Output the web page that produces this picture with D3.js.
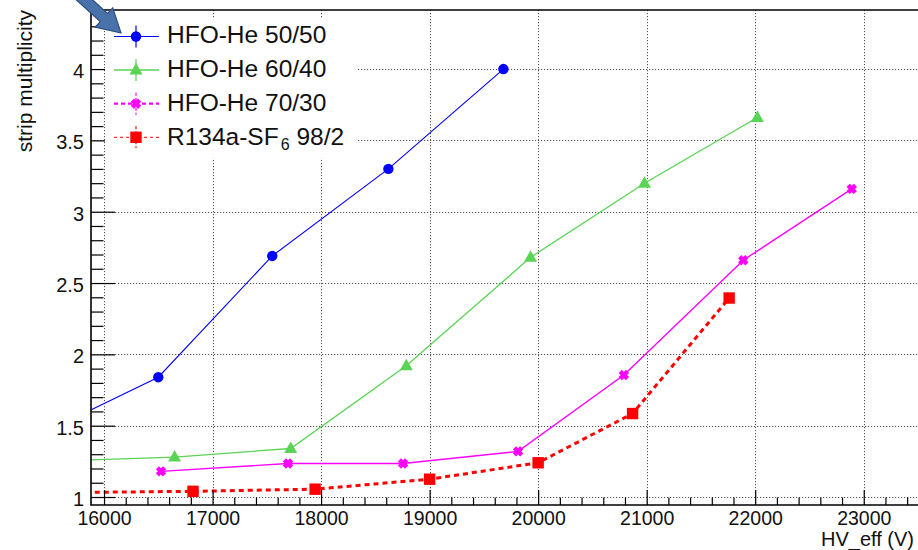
<!DOCTYPE html>
<html>
<head>
<meta charset="utf-8">
<script src="https://cdn.jsdelivr.net/npm/d3@7"></script>
<style>
  html, body { margin: 0; padding: 0; background: #fff; }
  svg { display: block; font-family: "Liberation Sans", Arial, Helvetica, sans-serif; }
</style>
</head>
<body>
<svg id="chart" width="918" height="550"></svg>
<script>
// Strip multiplicity versus effective high voltage for four gas mixtures.
// The first point of some scans lies below the visible HV range and is clipped by the frame.

const hv5050  = [15500, 16500, 17550, 18620, 19680];
const mult5050 = [1.47, 1.84, 2.69, 3.30, 4.00];

const hv6040  = [15500, 16650, 17720, 18785, 19930, 20980, 22020];
const mult6040 = [1.25, 1.28, 1.34, 1.92, 2.68, 3.20, 3.66];

const hv7030  = [16525, 17695, 18755, 19815, 20790, 21890, 22890];
const mult7030 = [1.18, 1.235, 1.235, 1.32, 1.855, 2.66, 3.16];

const hvStd   = [15500, 16820, 17945, 19000, 20000, 20870, 21760];
const multStd  = [1.03, 1.04, 1.055, 1.125, 1.24, 1.585, 2.395];

const seriesNames = ["HFO-He 50/50", "HFO-He 60/40", "HFO-He 70/30", "R134a-SF"];
const xMajorTicks = [16000, 17000, 18000, 19000, 20000, 21000, 22000, 23000];
const yMajorTicks = [1, 1.5, 2, 2.5, 3, 3.5, 4];
const xTitle = "HV_eff (V)";
const yTitle = "strip multiplicity";

const frame = { left: 91, top: 10, bottom: 505, right: 918 };

const x = d3.scaleLinear().domain([15880, 23500]).range([frame.left, frame.right]);
const y = d3.scaleLinear().domain([0.944, 4.414]).range([frame.bottom, frame.top]);

const svg = d3.select("#chart");

svg.append("defs").append("clipPath").attr("id", "plotClip")
  .append("rect")
  .attr("x", frame.left).attr("y", frame.top)
  .attr("width", frame.right - frame.left).attr("height", frame.bottom - frame.top);

// dotted grid at the major ticks
const grid = svg.append("g").attr("stroke", "#555").attr("stroke-width", 1)
  .attr("stroke-dasharray", "1.2,1.8");
grid.selectAll("line.v").data(xMajorTicks).join("line").attr("class", "v")
  .attr("x1", d => Math.round(x(d)) + 0.5).attr("x2", d => Math.round(x(d)) + 0.5)
  .attr("y1", frame.top).attr("y2", frame.bottom);
grid.selectAll("line.h").data(yMajorTicks).join("line").attr("class", "h")
  .attr("x1", frame.left).attr("x2", frame.right)
  .attr("y1", d => Math.round(y(d)) + 0.5).attr("y2", d => Math.round(y(d)) + 0.5);

// data series
const series = [
  { hv: hv5050, m: mult5050, color: "#0000ff", width: 1.1, dash: null, marker: "circle" },
  { hv: hv6040, m: mult6040, color: "#59d454", width: 1.3, dash: null, marker: "triangle" },
  { hv: hv7030, m: mult7030, color: "#ff00ff", width: 1.4, dash: null, marker: "cross" },
  { hv: hvStd,  m: multStd,  color: "#ff0000", width: 3,   dash: "5,4", marker: "square" }
];

const line = d3.line().x(d => x(d[0])).y(d => y(d[1]));

function crossPath(s) {
  // thick X outline: arms of half-width w along both diagonals
  const w = s * 0.62, r = s;
  const k = w / Math.SQRT2;
  const pts = [
    [0, -2 * k], [r - k, -r - k], [r + k, -r + k], [2 * k, 0],
    [r + k, r - k], [r - k, r + k], [0, 2 * k], [-r + k, r + k],
    [-r - k, r - k], [-2 * k, 0], [-r - k, -r + k], [-r + k, -r - k]
  ];
  return "M" + pts.map(p => p.map(v => v.toFixed(2)).join(",")).join("L") + "Z";
}

function drawMarker(g, type, cx, cy, color) {
  if (type === "circle") {
    g.append("circle").attr("cx", cx).attr("cy", cy).attr("r", 5.2).attr("fill", color);
  } else if (type === "triangle") {
    g.append("path").attr("transform", `translate(${cx},${cy})`)
      .attr("d", "M0,-7L6.5,4.5L-6.5,4.5Z").attr("fill", color);
  } else if (type === "cross") {
    g.append("path").attr("transform", `translate(${cx},${cy})`)
      .attr("d", crossPath(3.6)).attr("fill", color);
  } else if (type === "square") {
    g.append("rect").attr("x", cx - 5.7).attr("y", cy - 5.7)
      .attr("width", 11.4).attr("height", 11.4).attr("fill", color);
  }
}

const plot = svg.append("g").attr("clip-path", "url(#plotClip)");
series.forEach(s => {
  const pts = s.hv.map((h, i) => [h, s.m[i]]);
  plot.append("path").datum(pts)
    .attr("d", line).attr("fill", "none")
    .attr("stroke", s.color).attr("stroke-width", s.width)
    .attr("stroke-dasharray", s.dash);
  const mg = plot.append("g");
  pts.forEach(p => drawMarker(mg, s.marker, x(p[0]), y(p[1]), s.color));
});

// axes
const xMinor = d3.range(16000, 23500, 200).filter(v => v % 1000 !== 0);
const yMinor = d3.range(10, 45, 1).map(v => v / 10).filter(v => Math.round(v * 10) % 5 !== 0);

const axX = svg.append("g").attr("transform", `translate(0,${frame.bottom})`);
axX.call(d3.axisBottom(x).tickValues(xMajorTicks).tickSize(-15).tickPadding(6).tickFormat(d3.format("d")));
axX.append("g").call(d3.axisBottom(x).tickValues(xMinor).tickSize(-7.5).tickFormat(""));
axX.selectAll(".domain").remove();
axX.selectAll("line").attr("stroke", "#000").attr("stroke-width", 1.2);
axX.selectAll("text").attr("font-size", 19.5).attr("fill", "#111")
  .attr("font-family", "'Liberation Sans', Arial, sans-serif");

const axY = svg.append("g").attr("transform", `translate(${frame.left},0)`);
axY.call(d3.axisLeft(y).tickValues(yMajorTicks).tickSize(-24).tickPadding(7).tickFormat(d3.format("")));
axY.append("g").call(d3.axisLeft(y).tickValues(yMinor).tickSize(-12.5).tickFormat(""));
axY.selectAll(".domain").remove();
axY.selectAll("line").attr("stroke", "#000").attr("stroke-width", 1.2);
axY.selectAll("text").attr("font-size", 20).attr("fill", "#111").attr("dy", "0.43em")
  .attr("font-family", "'Liberation Sans', Arial, sans-serif");

// frame (right side lies beyond the visible area)
svg.append("path")
  .attr("d", `M${frame.right},${frame.top}H${frame.left}V${frame.bottom}H${frame.right}`)
  .attr("fill", "none").attr("stroke", "#000").attr("stroke-width", 1.6);

// axis titles
svg.append("text").attr("x", 914).attr("y", 546).attr("text-anchor", "end")
  .attr("font-size", 20).attr("fill", "#111").text(xTitle);
svg.append("text").attr("transform", "translate(32,10) rotate(-90)")
  .attr("text-anchor", "end").attr("font-size", 21).attr("fill", "#111").text(yTitle);

// legend
const legend = svg.append("g");
legend.append("rect").attr("x", 105).attr("y", 19).attr("width", 252).attr("height", 139).attr("fill", "#fff");
const legendLine = [
  { dash: null, width: 1.2 },
  { dash: null, width: 1.5 },
  { dash: "4,3", width: 2.2 },
  { dash: "3,3", width: 1 }
];
series.forEach((s, i) => {
  const cy = 36.5 + 33.6 * i;
  const row = legend.append("g");
  row.append("line").attr("x1", 114).attr("x2", 159).attr("y1", cy).attr("y2", cy)
    .attr("stroke", s.color).attr("stroke-width", legendLine[i].width)
    .attr("stroke-dasharray", legendLine[i].dash);
  row.append("line").attr("x1", 136).attr("x2", 136).attr("y1", cy - 11).attr("y2", cy + 11)
    .attr("stroke", s.color).attr("stroke-width", 1.2)
    .attr("stroke-dasharray", i >= 2 ? "3,2" : null);
  drawMarker(row, s.marker, 136, cy, s.color);
  const t = row.append("text").attr("x", 167).attr("y", 43 + 34 * i)
    .attr("font-size", 24.5).attr("fill", "#111");
  t.append("tspan").text(seriesNames[i]);
  if (i === 3) {
    t.append("tspan").attr("dx", 2).attr("dy", 5).attr("font-size", 16).text("6");
    t.append("tspan").attr("dy", -5).text(" 98/2");
  }
});

// pointer arrow aimed at the first legend entry
const tip = [121, 33], dir = [0.74, 0.67];
const n = Math.hypot(dir[0], dir[1]);
const d = [dir[0] / n, dir[1] / n], p = [-d[1], d[0]];
const headLen = 23, headHalf = 13, shaftHalf = 5.5, shaftLen = 45;
const base = [tip[0] - headLen * d[0], tip[1] - headLen * d[1]];
const start = [base[0] - shaftLen * d[0], base[1] - shaftLen * d[1]];
const pt = (c, k) => [c[0] + k * p[0], c[1] + k * p[1]];
const arrowPts = [
  pt(start, shaftHalf), pt(base, shaftHalf), pt(base, headHalf), tip,
  pt(base, -headHalf), pt(base, -shaftHalf), pt(start, -shaftHalf)
];
svg.append("path")
  .attr("d", "M" + arrowPts.map(q => q.map(v => v.toFixed(1)).join(",")).join("L") + "Z")
  .attr("fill", "#4a72aa").attr("stroke", "#2c4c7e").attr("stroke-width", 1.2)
  .attr("stroke-linejoin", "miter");
</script>
</body>
</html>
